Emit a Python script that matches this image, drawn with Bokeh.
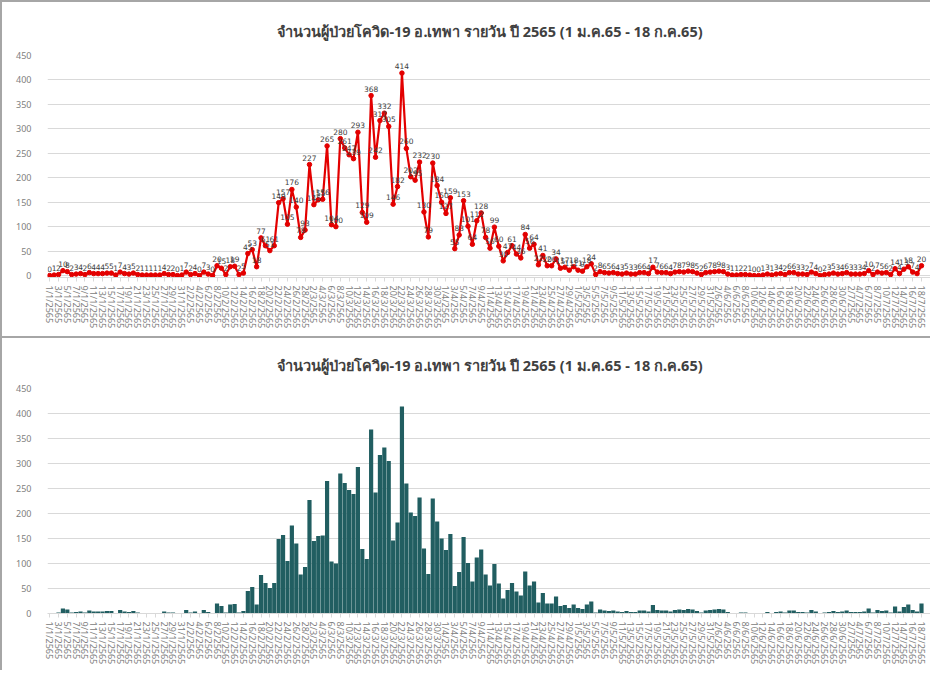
import datetime
from bokeh.plotting import figure
from bokeh.models import FixedTicker, ColumnDataSource, Title
from bokeh.layouts import column
from bokeh.embed import file_html
from bokeh.resources import INLINE
from bokeh.core.properties import value

TITLE = "จำนวนผู้ป่วยโควิด-19 อ.เทพา รายวัน ปี 2565 (1 ม.ค.65 - 18 ก.ค.65)"

# daily cases, 1 Jan 2565 (2022) .. 18 Jul 2565
cases = [
    0, 1, 2, 10, 8, 2, 3, 4, 2, 6,
    4, 4, 4, 5, 5, 1, 7, 4, 3, 5,
    2, 1, 1, 1, 1, 1, 4, 2, 2, 0,
    1, 7, 2, 4, 0, 7, 3, 0,
    20, 15, 2, 18, 19, 2, 5, 45, 53, 18,
    77, 61, 51, 61, 149, 157, 105, 176, 140, 78,
    93, 227,
    145, 155, 156, 265, 104, 100, 280, 261, 247, 239,
    293, 129, 109, 368, 242, 317, 332, 305, 146, 182,
    414,
    260, 202, 195, 232, 130, 79, 230, 184, 150, 127,
    159, 55, 83, 153, 101, 64, 112, 128, 78, 56,
    99, 60, 30, 47, 61, 44, 36, 84, 56, 64,
    22, 41, 20, 20, 34, 15, 17, 11, 18, 11,
    9, 18, 24,
    2, 8, 6, 5, 6, 4, 3, 5, 3, 3, 6, 6, 4,
    17,
    7, 6, 6, 4, 7, 8, 7, 9, 8, 5,
    2, 6, 7, 8, 9, 8, 3, 1, 1, 2,
    2, 1, 0, 0, 1, 3, 1, 3, 4, 2,
    6, 6, 3, 3, 2, 7, 4, 0, 2, 3,
    5, 3, 4, 6, 3, 3, 3, 4, 10, 2,
    7, 5, 6, 2, 14, 4, 13, 18, 7, 4,
    20,
]

start_day = datetime.date(2022, 1, 1)
day_labels = []
for k in range(len(cases)):
    d = start_day + datetime.timedelta(days=k)
    day_labels.append(f"{d.day}/{d.month}/{d.year + 543}")

y_ticks = [0, 50, 100, 150, 200, 250, 300, 350, 400, 450]

idx = list(range(len(cases)))
tick_idx = idx[::2]
overrides = {i: day_labels[i] for i in tick_idx}

src = ColumnDataSource(dict(x=idx, y=cases, lab=[str(v) for v in cases], day=day_labels))

FONT = "Tahoma, 'Noto Sans', 'DejaVu Sans', sans-serif"
LINE_RED = "#e30000"
TEAL = "#215e61"
GRID = "#d9d9d9"
TICK_TXT = "#808080"
FRAME = "#a6a6a6"


def style(p, left, standoff):
    p.add_layout(Title(text=TITLE, align="center", text_font=FONT,
                       text_font_size="14.5px", text_font_style="bold",
                       text_color="#404040", standoff=standoff), "above")
    p.outline_line_color = None
    p.xgrid.grid_line_color = None
    p.ygrid.grid_line_color = GRID
    p.ygrid.ticker = FixedTicker(ticks=y_ticks)
    p.yaxis.ticker = FixedTicker(ticks=y_ticks)
    p.yaxis.axis_line_color = None
    p.yaxis.major_tick_line_color = None
    p.yaxis.minor_tick_line_color = None
    p.yaxis.major_label_text_font = FONT
    p.yaxis.major_label_text_font_size = "9px"
    p.yaxis.major_label_text_color = TICK_TXT
    p.yaxis.major_label_standoff = 10
    p.xaxis.ticker = FixedTicker(ticks=tick_idx)
    p.xaxis.major_label_overrides = overrides
    p.xaxis.major_label_orientation = "vertical"
    p.xaxis.major_label_text_font = FONT
    p.xaxis.major_label_text_font_size = "9px"
    p.xaxis.major_label_text_color = TICK_TXT
    p.xaxis.axis_line_color = GRID
    p.xaxis.major_tick_line_color = GRID
    p.xaxis.major_tick_out = 4
    p.xaxis.major_tick_in = 0
    p.xaxis.minor_tick_line_color = None
    p.xaxis.major_label_standoff = 4
    p.min_border_left = left
    p.min_border_right = 0
    p.background_fill_color = "white"
    p.border_fill_color = "white"


p1 = figure(width=930, height=337, x_range=(-0.5, 200.5), y_range=(-4, 450),
            output_backend="svg", toolbar_location=None, title=None,
            min_border_top=53, min_border_bottom=62)
style(p1, 40, 30)
p1.styles = {"border-left": f"2px solid {FRAME}", "border-top": f"2px solid {FRAME}",
             "border-bottom": f"1px solid {FRAME}"}
p1.line("x", "y", source=src, line_color=LINE_RED, line_width=2.2)
p1.scatter("x", "y", source=src, size=4.5, fill_color=LINE_RED, line_color=LINE_RED)
p1.text("x", "y", text="lab", source=src, y_offset=-4, text_align="center",
        text_baseline="bottom", text_font_size="7.5px", text_color="#404040",
        text_font=value("DejaVu Sans"))

p2 = figure(width=930, height=333, x_range=(-0.5, 200.5), y_range=(0, 450),
            output_backend="svg", toolbar_location=None, title=None,
            min_border_top=49, min_border_bottom=58)
style(p2, 45, 28)
p2.styles = {"border-left": f"2px solid {FRAME}", "border-top": f"1px solid {FRAME}"}
p2.vbar(x="x", top="y", source=src, width=0.95, fill_color=TEAL, line_color=None)

layout = column(p1, p2, spacing=0)
open("out.html", "w").write(file_html(layout, INLINE))
